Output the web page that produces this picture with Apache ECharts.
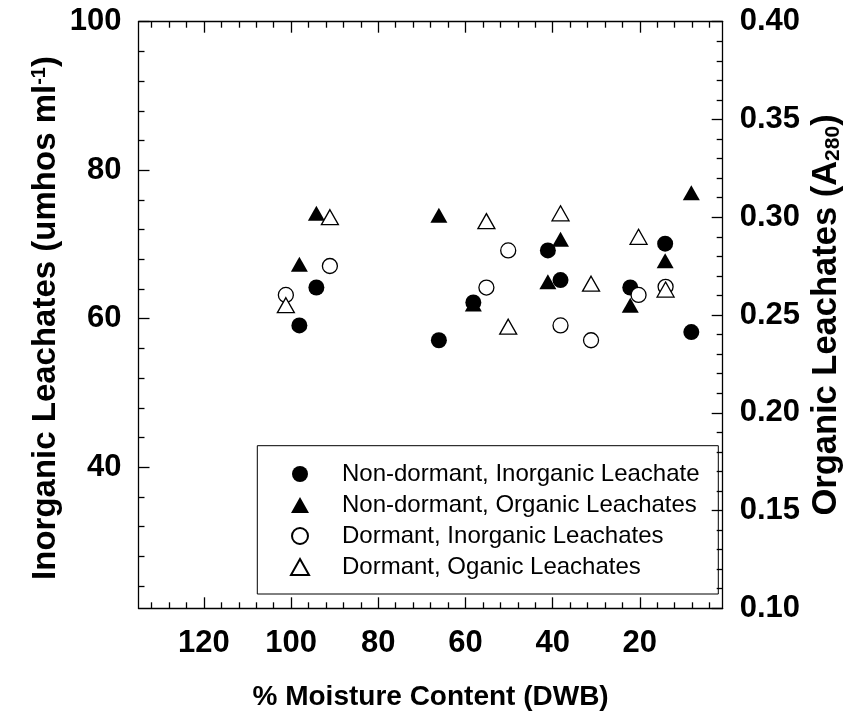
<!DOCTYPE html>
<html>
<head>
<meta charset="utf-8">
<script src="https://cdn.jsdelivr.net/npm/echarts@6/dist/echarts.min.js"></script>
<style>
html,body{margin:0;padding:0;background:#fff;}
#chart{width:865px;height:719px;}
</style>
</head>
<body>
<div id="chart"></div>
<script>
// ---- data ----
const moistureNonDormant = [98.1, 94.2, 66.1, 58.2, 41.1, 38.2, 22.2, 14.2, 8.2];
const nonDormantInorganic = [59.1, 64.2, 57.1, 62.2, 69.2, 65.2, 64.2, 70.1, 58.2];
const nonDormantOrganic = [0.276, 0.302, 0.301, 0.2556, 0.267, 0.2887, 0.255, 0.2778, 0.3125];

const moistureDormant = [101.2, 91.1, 55.2, 50.2, 38.2, 31.2, 20.3, 14.1];
const dormantInorganic = [63.2, 67.1, 64.2, 69.2, 59.1, 57.1, 63.2, 64.3];
const dormantOrganic = [0.255, 0.300, 0.298, 0.244, 0.302, 0.266, 0.290, 0.263];

const seriesNames = [
  'Non-dormant, Inorganic Leachate',
  'Non-dormant, Organic Leachates',
  'Dormant, Inorganic Leachates',
  'Dormant, Oganic Leachates'
];

const xTickValues = [120, 100, 80, 60, 40, 20];
const leftTickValues = [40, 60, 80, 100];
const rightTickValues = [0.10, 0.15, 0.20, 0.25, 0.30, 0.35, 0.40];

// minor tick positions
const xMinor = []; for (let v = 4; v <= 132; v += 4) if (v % 20 !== 0) xMinor.push(v);
const leftMinor = []; for (let v = 24; v <= 96; v += 4) if (v % 20 !== 0) leftMinor.push(v);
const rightMinor = []; for (let k = 11; k <= 39; k++) if (k % 5 !== 0) rightMinor.push(k / 100);

const FONT = '"Liberation Sans", Arial, Helvetica, sans-serif';
const X_MIN = 1, X_MAX = 135, YL_MIN = 21, YL_MAX = 100, YR_MIN = 0.1, YR_MAX = 0.4;
const lineStyle = { color: '#000', width: 1.3 };
const TICK_FONT = 31;

function xAx(position, major, withLine) {
  return {
    type: 'value', min: X_MIN, max: X_MAX, inverse: true, position: position,
    axisLine: { show: withLine, onZero: false, lineStyle: lineStyle },
    axisTick: { show: true, inside: true, length: major ? 11 : 6, lineStyle: lineStyle,
      customValues: major ? xTickValues : xMinor },
    axisLabel: { show: major && position === 'bottom', customValues: xTickValues, margin: 20,
      color: '#000', fontFamily: FONT, fontWeight: 'bold', fontSize: TICK_FONT },
    splitLine: { show: false }
  };
}
function yAx(position, major, min, max, majorVals, minorVals, fmt) {
  return {
    type: 'value', min: min, max: max, position: position,
    axisLine: { show: major, onZero: false, lineStyle: lineStyle },
    axisTick: { show: true, inside: true, length: major ? 11 : 6, lineStyle: lineStyle,
      customValues: major ? majorVals : minorVals },
    axisLabel: { show: major, customValues: majorVals, margin: 17, formatter: fmt,
      color: '#000', fontFamily: FONT, fontWeight: 'bold', fontSize: TICK_FONT },
    splitLine: { show: false }
  };
}

const chart = echarts.init(document.getElementById('chart'), null, { renderer: 'canvas' });

function pairs(xs, ys) { return xs.map((x, i) => [x, ys[i]]); }

const option = {
  backgroundColor: '#fff',
  animation: false,
  grid: { left: 138.5, right: 142.3, top: 21.7, bottom: 110.7, containLabel: false, outerBoundsMode: 'none' },
  xAxis: [
    xAx('bottom', true, true),
    xAx('bottom', false, false),
    xAx('top', true, true),
    xAx('top', false, false)
  ],
  yAxis: [
    yAx('left', true, YL_MIN, YL_MAX, leftTickValues, leftMinor, v => String(v)),
    yAx('left', false, YL_MIN, YL_MAX, leftTickValues, leftMinor, v => String(v)),
    yAx('right', true, YR_MIN, YR_MAX, rightTickValues, rightMinor, v => v.toFixed(2)),
    yAx('right', false, YR_MIN, YR_MAX, rightTickValues, rightMinor, v => v.toFixed(2))
  ],
  legend: {
    left: 290, top: 462, orient: 'vertical',
    itemWidth: 18, itemHeight: 16, itemGap: 7,
    padding: 0,
    textStyle: { color: '#000', fontFamily: FONT, fontSize: 24, lineHeight: 24, padding: [0, 0, 0, 28] },
    data: seriesNames
  },
  series: [
    { name: seriesNames[0], type: 'scatter', xAxisIndex: 0, yAxisIndex: 0,
      symbol: 'circle', symbolSize: 16,
      itemStyle: { color: '#000', borderColor: '#000', borderWidth: 0, opacity: 1 },
      data: pairs(moistureNonDormant, nonDormantInorganic) },
    { name: seriesNames[1], type: 'scatter', xAxisIndex: 0, yAxisIndex: 2,
      symbol: 'triangle', symbolSize: [17, 15],
      itemStyle: { color: '#000', borderColor: '#000', borderWidth: 0, opacity: 1 },
      data: pairs(moistureNonDormant, nonDormantOrganic) },
    { name: seriesNames[2], type: 'scatter', xAxisIndex: 0, yAxisIndex: 0,
      symbol: 'circle', symbolSize: 15,
      itemStyle: { color: '#fff', borderColor: '#000', borderWidth: 1.3, opacity: 1 },
      data: pairs(moistureDormant, dormantInorganic) },
    { name: seriesNames[3], type: 'scatter', xAxisIndex: 0, yAxisIndex: 2,
      symbol: 'triangle', symbolSize: [17, 15],
      itemStyle: { color: '#fff', borderColor: '#000', borderWidth: 1.3, opacity: 1 },
      data: pairs(moistureDormant, dormantOrganic) }
  ],
  graphic: [
    { type: 'rect', shape: { x: 257.3, y: 445.7, width: 461, height: 148.3 },
      style: { fill: 'none', stroke: '#000', lineWidth: 1 }, z: 10 },
    { type: 'text', x: 430.6, y: 697, z: 10,
      style: { text: '% Moisture Content (DWB)', fill: '#000', font: 'bold 28px ' + FONT,
        textAlign: 'center', textVerticalAlign: 'middle' } },
    { type: 'text', x: 46, y: 318, rotation: Math.PI / 2, z: 10,
      style: { text: '{t|Inorganic Leachates (umhos ml}{sup|-1}{t|)}', fill: '#000',
        textAlign: 'center', textVerticalAlign: 'middle',
        rich: {
          t: { fontFamily: FONT, fontWeight: 'bold', fontSize: 33, fill: '#000', lineHeight: 34 },
          sup: { fontFamily: FONT, fontWeight: 'bold', fontSize: 20, fill: '#000', verticalAlign: 'top', lineHeight: 20 }
        } } },
    { type: 'text', x: 826, y: 315, rotation: Math.PI / 2, z: 10,
      style: { text: '{t|Organic Leachates (A}{sub|280}{t|)}', fill: '#000',
        textAlign: 'center', textVerticalAlign: 'middle',
        rich: {
          t: { fontFamily: FONT, fontWeight: 'bold', fontSize: 34.5, fill: '#000', lineHeight: 35 },
          sub: { fontFamily: FONT, fontWeight: 'bold', fontSize: 21, fill: '#000', verticalAlign: 'bottom', lineHeight: 21 }
        } } }
  ]
};
chart.setOption(option);
</script>
</body>
</html>
